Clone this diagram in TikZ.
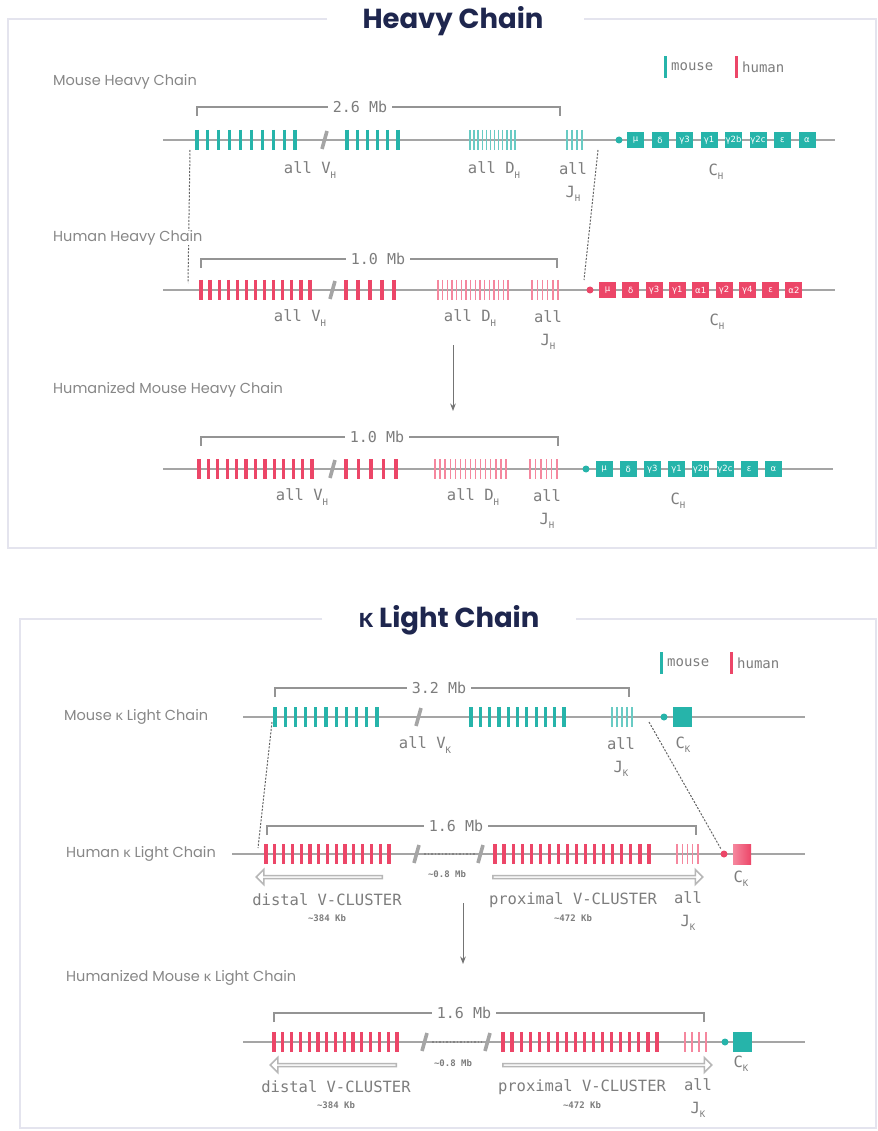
\documentclass[tikz,border=0pt]{standalone}
\usepackage{fontspec}
\setmainfont{Poppins}
\setmonofont{DejaVu Sans Mono}
\newfontfamily\greekfont{Lato}
\newfontfamily\boxfont{DejaVu Sans}
\usetikzlibrary{arrows.meta,shapes.arrows}

% small lowered index, as in C_H or J_K
\newcommand{\lowsub}[1]{\raisebox{-0.5ex}{\fontsize{9}{9}\selectfont #1}}
% evenly spaced gene segments: style, first x, last x, count, y
\newcommand{\genes}[5]{%
  \foreach \k in {1,...,#4}{%
    \pgfmathsetmacro{\gx}{#2+(\k-1)*(#3-#2)/(#4-1)}%
    \draw[#1] (\gx,#5-10) -- (\gx,#5+10);
  }}

\begin{document}
\begin{tikzpicture}[x=1pt,y=-1pt,>=Stealth]
	%---------------- Colors & styles ----------------
	\definecolor{mouse}{RGB}{38,180,170}    % mouse segments
	\definecolor{mouselt}{RGB}{105,203,196}
	\definecolor{human}{RGB}{236,70,104}    % human segments
	\definecolor{humanlt}{RGB}{245,135,158}
	\definecolor{dna}{RGB}{165,165,165}     % backbone
	\definecolor{txt}{RGB}{125,125,125}
	\definecolor{labgray}{RGB}{135,135,135}
	\definecolor{navy}{RGB}{30,38,78}
	\definecolor{frame}{RGB}{228,228,238}
	\tikzset{
		backbone/.style={dna, line width=2.2pt},
		vseg/.style={line width=3.2pt},          % V segments
		tseg/.style={line width=1.4pt},          % D and J segments
		gap/.style={dna, line width=3.6pt},      % break mark
		span/.style={dna!90!black, line width=1.5pt},
		mb/.style={fill=white, text=txt, inner xsep=5pt, inner ysep=1pt, font=\ttfamily\fontsize{15}{15}\selectfont},
		gene/.style={text=txt, inner sep=0pt, align=center, font=\ttfamily\fontsize{15.5}{23}\selectfont},
		small/.style={text=txt, inner sep=0pt, font=\ttfamily\bfseries\fontsize{9}{10}\selectfont},
		rowlabel/.style={anchor=west, inner sep=0pt, text=labgray, font=\fontsize{14.5}{16}\selectfont},
		title/.style={text=navy, inner sep=0pt, font=\bfseries\fontsize{27.5}{27.5}\selectfont},
		chbox/.style={minimum width=17pt, minimum height=16pt, inner sep=0pt, text=white, font=\boxfont\fontsize{8.5}{8.5}\selectfont},
		ckbox/.style={minimum width=19pt, minimum height=20pt, inner sep=0pt},
		hollow/.style={single arrow, draw=dna!80, fill=white, line width=1.5pt, minimum width=15pt, single arrow head extend=3pt, single arrow head indent=0pt, inner sep=0pt},
		swap/.style={dna!60!black, line width=1pt, dash pattern=on 2pt off 1.5pt},
		flow/.style={->, dna!70!black, line width=1pt},
		legend/.style={anchor=west, inner sep=0pt, text=txt, font=\ttfamily\fontsize{14}{14}\selectfont},
	}

	\fill[white] (0,0) rectangle (877,1131);
	\useasboundingbox (0,0) rectangle (877,1131);

	%---------------- Frames ----------------
	\draw[frame, line width=1.2pt] (327,19) -- (8,19) -- (8,548) -- (876,548) -- (876,19) -- (584,19);
	\draw[frame, line width=1.2pt] (322,619) -- (20,619) -- (20,1128) -- (876,1128) -- (876,619) -- (576,619);
	\node[title] (heavyTitle) at (453,21) {Heavy Chain};
	\node[title] (lightTitle) at (449,620) {{\greekfont\bfseries κ} Light Chain};

	%---------------- Legends ----------------
	\fill[mouse] (664,56) rectangle (667,78);
	\node[legend] (legM1) at (671,67) {mouse};
	\fill[human] (735,56) rectangle (738,78);
	\node[legend] (legH1) at (742,67) {human};
	\fill[mouse] (660,652) rectangle (663,674);
	\node[legend] (legM2) at (667,663) {mouse};
	\fill[human] (730,652) rectangle (733,674);
	\node[legend] (legH2) at (737,663) {human};

	%================ HEAVY CHAIN ================
	\def\yA{140}
	\def\yB{290}
	\def\yC{469}

	%---------------- Mouse heavy chain ----------------
	\node[rowlabel] (mhLabel) at (53,82) {Mouse Heavy Chain};
	\draw[backbone] (163,\yA) -- (835,\yA);
	\draw[span] (197,116) -- (197,107) -- (560,107) -- (560,116);
	\node[mb] (mhLen) at (360,107) {2.6 Mb};
	\genes{vseg,mouse}{197}{295}{10}{\yA}
	\draw[gap] (322,\yA+9) -- (327,\yA-9);
	\genes{vseg,mouse}{347}{398}{6}{\yA}
	\genes{tseg,mouselt}{470}{515}{12}{\yA}
	\genes{tseg,mouselt}{567}{582}{4}{\yA}
	\fill[mouse] (619,\yA) circle[radius=3.5pt];
	\foreach \lab [count=\i] in {μ,δ,γ3,γ1,γ2b,γ2c,ε,α}
		\node[chbox, fill=mouse] (mhC\i) at ({635.5+(\i-1)*24.5},\yA) {\lab};
	\node[gene] (mhV) at (310,170) {all V\lowsub{H}};
	\node[gene] (mhD) at (494,170) {all D\lowsub{H}};
	\node[gene] (mhJ) at (573,182) {all\\J\lowsub{H}};
	\node[gene] (mhCH) at (716,172) {C\lowsub{H}};

	% swapped region (drawn before the label below, which covers it)
	\coordinate (mhLeft) at (190,150);
	\coordinate (hhLeft) at (188,283);
	\coordinate (mhRight) at (598,150);
	\coordinate (hhRight) at (584,280);
	\draw[swap] (mhLeft) -- (hhLeft);
	\draw[swap] (mhRight) -- (hhRight);

	%---------------- Human heavy chain ----------------
	\node[rowlabel, fill=white, inner xsep=1pt] (hhLabel) at (52,238) {Human Heavy Chain};
	\draw[backbone] (163,\yB) -- (835,\yB);
	\draw[span] (201,268) -- (201,259) -- (557,259) -- (557,268);
	\node[mb] (hhLen) at (378,259) {1.0 Mb};
	\genes{vseg,human}{201}{310}{13}{\yB}
	\draw[gap] (330,\yB+9) -- (335,\yB-9);
	\genes{vseg,human}{346}{394}{5}{\yB}
	\genes{tseg,humanlt}{438}{508}{16}{\yB}
	\genes{tseg,humanlt}{532}{558}{6}{\yB}
	\fill[human] (590,\yB) circle[radius=3.5pt];
	\foreach \lab [count=\i] in {μ,δ,γ3,γ1,α1,γ2,γ4,ε,α2}
		\node[chbox, fill=human] (hhC\i) at ({607.5+(\i-1)*23.3},\yB) {\lab};
	\node[gene] (hhV) at (300,318) {all V\lowsub{H}};
	\node[gene] (hhD) at (470,318) {all D\lowsub{H}};
	\node[gene] (hhJ) at (548,330) {all\\J\lowsub{H}};
	\node[gene] (hhCH) at (717,322) {C\lowsub{H}};

	\coordinate (hArrowTop) at (453,345);
	\coordinate (hArrowBot) at (453,411);
	\draw[flow] (hArrowTop) -- (hArrowBot);

	%---------------- Humanized mouse heavy chain ----------------
	\node[rowlabel] (zhLabel) at (53,390) {Humanized Mouse Heavy Chain};
	\draw[backbone] (163,\yC) -- (833,\yC);
	\draw[span] (201,446) -- (201,437) -- (558,437) -- (558,446);
	\node[mb] (zhLen) at (377,437) {1.0 Mb};
	\genes{vseg,human}{199}{312}{13}{\yC}
	\draw[gap] (330,\yC+9) -- (335,\yC-9);
	\genes{vseg,human}{346}{396}{5}{\yC}
	\genes{tseg,humanlt}{435}{506}{15}{\yC}
	\genes{tseg,humanlt}{530}{557}{6}{\yC}
	\fill[mouse] (586,\yC) circle[radius=3.5pt];
	\foreach \lab [count=\i] in {μ,δ,γ3,γ1,γ2b,γ2c,ε,α}
		\node[chbox, fill=mouse] (zhC\i) at ({604+(\i-1)*24.2},\yC) {\lab};
	\node[gene] (zhV) at (302,497) {all V\lowsub{H}};
	\node[gene] (zhD) at (473,497) {all D\lowsub{H}};
	\node[gene] (zhJ) at (547,509) {all\\J\lowsub{H}};
	\node[gene] (zhCH) at (678,501) {C\lowsub{H}};

	%================ KAPPA LIGHT CHAIN ================
	\def\yD{717}
	\def\yE{854}
	\def\yF{1042}

	%---------------- Mouse kappa chain ----------------
	\node[rowlabel] (mkLabel) at (64,717) {Mouse {\greekfont κ} Light Chain};
	\draw[backbone] (243,\yD) -- (805,\yD);
	\draw[span] (275,697) -- (275,688) -- (629,688) -- (629,697);
	\node[mb] (mkLen) at (439,688) {3.2 Mb};
	\genes{vseg,mouse}{275}{377}{11}{\yD}
	\draw[gap] (416,\yD+9) -- (421,\yD-9);
	\genes{vseg,mouse}{471}{564}{11}{\yD}
	\genes{tseg,mouselt}{612}{632}{5}{\yD}
	\fill[mouse] (664,\yD) circle[radius=3.5pt];
	\node[ckbox, fill=mouse] (mkC) at (682.5,\yD) {};
	\node[gene] (mkV) at (425,745) {all V\lowsub{K}};
	\node[gene] (mkJ) at (621,757) {all\\J\lowsub{K}};
	\node[gene] (mkCK) at (683,745) {C\lowsub{K}};

	%---------------- Human kappa chain ----------------
	\node[rowlabel] (hkLabel) at (66,854) {Human {\greekfont κ} Light Chain};
	\draw[backbone] (232,\yE) -- (805,\yE);
	\draw[span] (267,835) -- (267,826) -- (696,826) -- (696,835);
	\node[mb] (hkLen) at (456,826) {1.6 Mb};
	\genes{vseg,human}{266}{389}{15}{\yE}
	\draw[gap] (414,\yE+9) -- (419,\yE-9);
	\draw[dna!80!black, line width=1.4pt, dash pattern=on 1.5pt off 2pt] (424,\yE) -- (475,\yE);
	\draw[gap] (478,\yE+9) -- (483,\yE-9);
	\genes{vseg,human}{495}{649}{18}{\yE}
	\genes{tseg,humanlt}{677}{698}{5}{\yE}
	\fill[human] (724,\yE) circle[radius=3.5pt];
	\shade[left color=humanlt, right color=human] (733,844) rectangle (751,864);
	\node[ckbox] (hkC) at (742,\yE) {};
	\node[hollow, shape border rotate=180, minimum height=126pt] (hkDist) at (320,877) {};
	\node[hollow, minimum height=210pt] (hkProx) at (597,877) {};
	\node[small] (hkGap) at (447,874) {\textasciitilde0.8 Mb};
	\node[gene] (hkDistL) at (327,900) {distal V-CLUSTER};
	\node[small] (hkDistS) at (327,918) {\textasciitilde384 Kb};
	\node[gene] (hkProxL) at (573,900) {proximal V-CLUSTER};
	\node[small] (hkProxS) at (573,918) {\textasciitilde472 Kb};
	\node[gene] (hkJ) at (688,911) {all\\J\lowsub{K}};
	\node[gene] (hkCK) at (741,879) {C\lowsub{K}};

	% swapped region
	\coordinate (mkLeft) at (272,722);
	\coordinate (hkLeft) at (258,848);
	\coordinate (mkRight) at (649,722);
	\coordinate (hkRight) at (721,849);
	\draw[swap] (mkLeft) -- (hkLeft);
	\draw[swap] (mkRight) -- (hkRight);
	\coordinate (kArrowTop) at (463,903);
	\coordinate (kArrowBot) at (463,964);
	\draw[flow] (kArrowTop) -- (kArrowBot);

	%---------------- Humanized mouse kappa chain ----------------
	\node[rowlabel] (zkLabel) at (66,978) {Humanized Mouse {\greekfont κ} Light Chain};
	\draw[backbone] (243,\yF) -- (805,\yF);
	\draw[span] (274,1022) -- (274,1013) -- (704,1013) -- (704,1022);
	\node[mb] (zkLen) at (464,1013) {1.6 Mb};
	\genes{vseg,human}{274}{397}{15}{\yF}
	\draw[gap] (422,\yF+9) -- (427,\yF-9);
	\draw[dna!80!black, line width=1.4pt, dash pattern=on 1.5pt off 2pt] (432,\yF) -- (482,\yF);
	\draw[gap] (485,\yF+9) -- (490,\yF-9);
	\genes{vseg,human}{503}{657}{18}{\yF}
	\genes{tseg,humanlt}{685}{706}{4}{\yF}
	\fill[mouse] (725,\yF) circle[radius=3.5pt];
	\node[ckbox, fill=mouse] (zkC) at (742,\yF) {};
	\node[hollow, shape border rotate=180, minimum height=126pt] (zkDist) at (334,1065) {};
	\node[hollow, minimum height=209pt] (zkProx) at (606.5,1065) {};
	\node[small] (zkGap) at (453,1063) {\textasciitilde0.8 Mb};
	\node[gene] (zkDistL) at (336,1087) {distal V-CLUSTER};
	\node[small] (zkDistS) at (336,1105) {\textasciitilde384 Kb};
	\node[gene] (zkProxL) at (582,1087) {proximal V-CLUSTER};
	\node[small] (zkProxS) at (582,1105) {\textasciitilde472 Kb};
	\node[gene] (zkJ) at (698,1098) {all\\J\lowsub{K}};
	\node[gene] (zkCK) at (741,1064) {C\lowsub{K}};
\end{tikzpicture}
\end{document}
